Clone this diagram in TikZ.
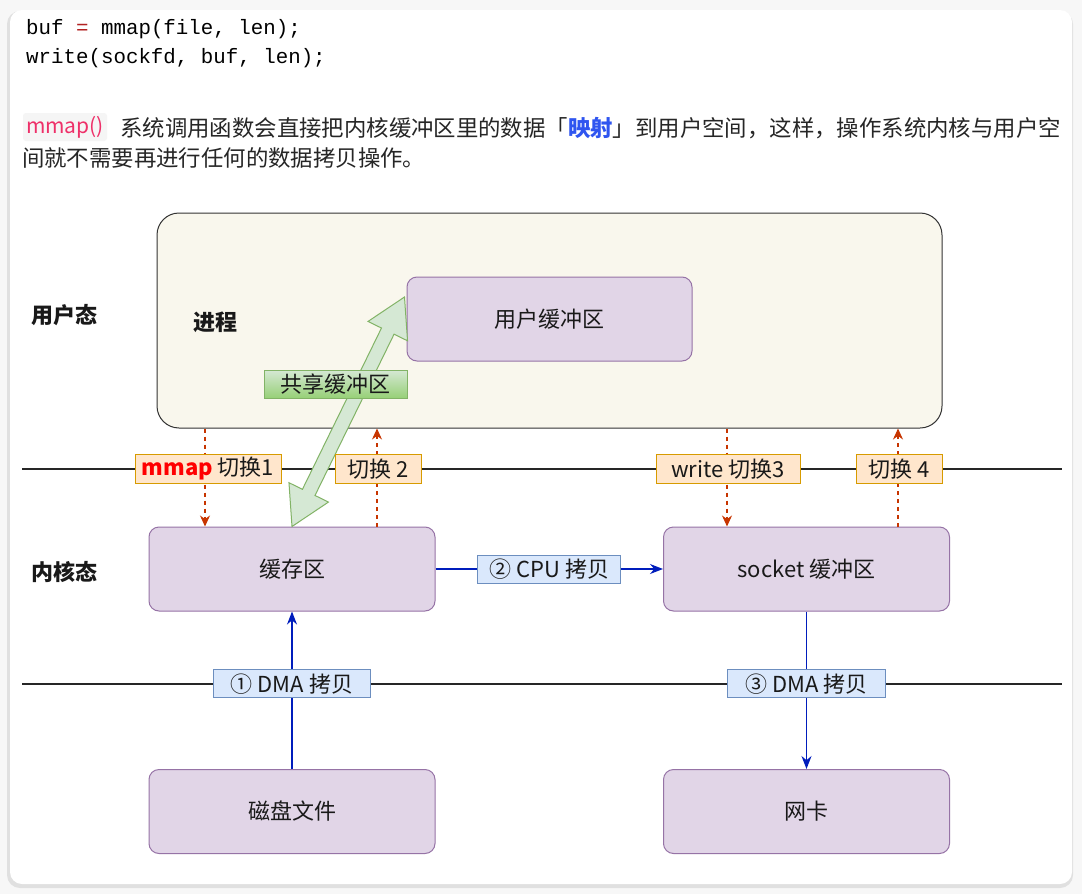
\documentclass[tikz,border=0pt]{standalone}
\usepackage{fontspec}
\setmainfont{Noto Sans CJK SC}
\setmonofont{Liberation Mono}
\usetikzlibrary{calc,positioning,arrows.meta}
\definecolor{boxfill}{HTML}{E1D5E7}
\definecolor{boxline}{HTML}{9673A6}
\definecolor{userfill}{HTML}{F9F7ED}
\definecolor{tagfill}{HTML}{FFE6CC}
\definecolor{tagline}{HTML}{D79B00}
\definecolor{copyfill}{HTML}{DAE8FC}
\definecolor{copyline}{HTML}{6C8EBF}
\definecolor{sharefill}{HTML}{D5E8D4}
\definecolor{shareline}{HTML}{82B366}
\definecolor{sharedark}{HTML}{97D077}
\definecolor{switchred}{HTML}{C73500}
\definecolor{copyblue}{HTML}{001DBC}
\definecolor{codepink}{HTML}{EE3069}
\definecolor{codered}{HTML}{B22222}
\definecolor{mapblue}{HTML}{2F55F0}
\tikzstyle{box}         = [draw=boxline, fill=boxfill, line width=1pt, rounded corners=10pt, minimum width=286pt, minimum height=84pt, text=black!90, font=\fontsize{22}{24}\selectfont]
\tikzstyle{tag}         = [draw=tagline, fill=tagfill, line width=1pt, minimum height=29pt, inner xsep=6pt, inner ysep=0pt, text=black!90, font=\fontsize{22}{24}\selectfont]
\tikzstyle{copytag}     = [draw=copyline, fill=copyfill, line width=1pt, minimum height=28pt, inner xsep=6pt, inner ysep=0pt, text=black!90, font=\fontsize{22}{24}\selectfont]
\tikzstyle{switcharrow} = [switchred, dash pattern=on 4pt off 4pt, line width=1.1pt, -{Stealth[length=11pt,width=10pt]}]
\tikzstyle{copyarrow}   = [copyblue, line width=1.2pt, -{Stealth[length=13pt,width=10pt]}]
\tikzstyle{layer}       = [text=black!90, font=\fontsize{22}{24}\selectfont\bfseries]

\begin{document}
\begin{tikzpicture}[x=1pt,y=-1pt]
		\useasboundingbox (0,0) rectangle (1082,894);
		\fill[gray!6] (0,0) rectangle (1082,894);
		\fill[black!12, rounded corners=13pt] (7,11) rectangle (1073,888);
		\fill[white, rounded corners=12pt] (10,10) rectangle (1072,884);

		% code and text
		\node[anchor=west, inner sep=0pt, font=\ttfamily\fontsize{20.8}{24}\selectfont] (code1) at (26,29) {buf \textcolor{codered}{=} mmap(file, len);};
		\node[anchor=west, inner sep=0pt, font=\ttfamily\fontsize{20.8}{24}\selectfont] (code2) at (26,58) {write(sockfd, buf, len);};
		\node[fill=gray!8, rounded corners=3pt, minimum width=84pt, minimum height=28pt, inner sep=0pt, text=codepink, font=\fontsize{21}{24}\selectfont] (mmapcode) at (65,127) {mmap()};
		\node[anchor=west, inner sep=0pt, text=black!85, font=\fontsize{22.4}{26}\selectfont] (para1) at (120,128) {系统调用函数会直接把内核缓冲区里的数据「\textcolor{mapblue}{\textbf{映射}}」到用户空间，这样，操作系统内核与用户空};
		\node[anchor=west, inner sep=0pt, text=black!85, font=\fontsize{22.4}{26}\selectfont] (para2) at (22,158) {间就不需要再进行任何的数据拷贝操作。};

		% layers
		\draw[line width=1.1pt, black!85] (22,469) -- (1062,469);
		\draw[line width=1.1pt, black!85] (22,684) -- (1062,684);

		\node[box, rounded corners=22pt, fill=userfill, draw=black!80, minimum width=785pt, minimum height=215pt] (userspace) at (549.5,320.5) {};
		\node[layer] (userlbl) at (64,315) {用户态};
		\node[layer] (proc) at (215,322) {进程};
		\node[box, minimum width=285pt] (ubuf) at (549.5,319) {用户缓冲区};
		\node[layer] (kernlbl) at (64,572) {内核态};
		\node[box] (cache) at (292,569) {缓存区};
		\node[box] (sockbuf) at (806.5,569) {socket 缓冲区};
		\node[box] (disk) at (292,811.5) {磁盘文件};
		\node[box] (nic) at (806.5,811.5) {网卡};

		% shared buffer
		\coordinate (shB) at (cache.north);
		\coordinate (shT) at ($(ubuf.west)+(-2,-22)$);
		\coordinate (hb) at ($(shB)!38pt!(shT)$);
		\coordinate (ht) at ($(shT)!38pt!(shB)$);
		\draw[fill=sharefill, draw=shareline, line width=1pt, line join=miter] (shB) -- ($(hb)!22pt!90:(shT)$) -- ($(hb)!7pt!90:(shT)$) -- ($(ht)!7pt!-90:(shB)$) -- ($(ht)!22pt!-90:(shB)$) -- (shT) -- ($(ht)!22pt!90:(shB)$) -- ($(ht)!7pt!90:(shB)$) -- ($(hb)!7pt!-90:(shT)$) -- ($(hb)!22pt!-90:(shT)$) -- cycle;
		\node[draw=shareline, top color=sharefill, bottom color=sharedark, line width=1pt, minimum width=143pt, minimum height=28pt, inner sep=0pt, text=black!90, font=\fontsize{22}{24}\selectfont] (share) at (335.5,384) {共享缓冲区};

		% context switches
		\draw[switcharrow] (userspace.south -| 205,0) -- (cache.north -| 205,0);
		\draw[switcharrow] (cache.north -| 377,0) -- (userspace.south -| 377,0);
		\draw[switcharrow] (userspace.south -| 727,0) -- (sockbuf.north -| 727,0);
		\draw[switcharrow] (sockbuf.north -| 898,0) -- (userspace.south -| 898,0);
		\node[tag, minimum width=146pt] (sw1) at (208,469) {\textcolor{red}{\textbf{mmap}} 切换1};
		\node[tag, minimum width=86pt] (sw2) at (378,469) {切换 2};
		\node[tag, minimum width=144pt] (sw3) at (728,469) {write 切换3};
		\node[tag, minimum width=86pt] (sw4) at (899,469) {切换 4};

		% copies
		\draw[copyarrow] (cache.east) -- node[copytag, minimum width=143pt] (cpu) {② CPU 拷贝} (sockbuf.west);
		\draw[copyarrow] (disk.north) -- node[copytag, pos=0.54, minimum width=157pt] (dma1) {① DMA 拷贝} (cache.south);
		\draw[copyarrow] (sockbuf.south) -- node[copytag, pos=0.46, minimum width=158pt] (dma3) {③ DMA 拷贝} (nic.north);
	\end{tikzpicture}
\end{document}
